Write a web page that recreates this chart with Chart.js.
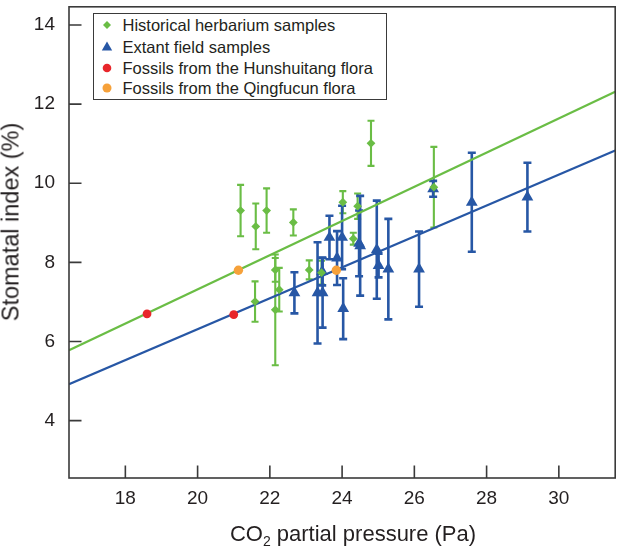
<!DOCTYPE html>
<html><head><meta charset="utf-8">
<script src="https://cdn.jsdelivr.net/npm/chart.js@4.4.1/dist/chart.umd.min.js"></script>
<style>
html,body{margin:0;padding:0;background:#fff;}
#wrap{position:relative;width:622px;height:547px;font-family:"Liberation Sans",Arial,Helvetica,sans-serif;color:#231f20;overflow:hidden;}
canvas{position:absolute;left:0;top:0;}
.legend{position:absolute;left:93px;top:13px;width:294px;height:87px;border:1.5px solid #3a3a3a;box-sizing:border-box;background:#fff;}
.row{position:absolute;left:0;height:20px;line-height:20px;font-size:16.5px;white-space:nowrap;}
.row svg{position:absolute;left:5.5px;top:3px;}
.row span{position:absolute;left:28.5px;top:0;}
.ytitle{position:absolute;left:11px;top:222px;transform:translate(-50%,-50%) rotate(-90deg);font-size:23.5px;white-space:nowrap;}
.xtitle{position:absolute;left:353px;top:534px;transform:translate(-50%,-50%);font-size:22px;white-space:nowrap;}
.xtitle sub{font-size:14px;vertical-align:-5px;line-height:0;}
</style></head>
<body>
<div id="wrap">
<canvas id="c" width="622" height="547"></canvas>
<div class="legend">
 <div class="row" style="top:0.5px"><svg width="14" height="14"><polygon points="7,3 11,7 7,11 3,7" fill="#6abd45"/></svg><span>Historical herbarium samples</span></div>
 <div class="row" style="top:22.5px"><svg width="14" height="14"><polygon points="7,1.5 12.2,10.5 1.8,10.5" fill="#2757a5"/></svg><span>Extant field samples</span></div>
 <div class="row" style="top:43.5px"><svg width="14" height="14"><circle cx="7" cy="7" r="4.3" fill="#e8262b"/></svg><span>Fossils from the Hunshuitang flora</span></div>
 <div class="row" style="top:63.5px"><svg width="14" height="14"><circle cx="7" cy="7" r="4.5" fill="#f6a13a"/></svg><span>Fossils from the Qingfucun flora</span></div>
</div>
<div class="ytitle">Stomatal index (%)</div>
<div class="xtitle">CO<sub>2</sub> partial pressure (Pa)</div>
</div>
<script>
// ---- data ----
const xTicks = [18, 20, 22, 24, 26, 28, 30];
const yTicks = [4, 6, 8, 10, 12, 14];

const herbX   = [21.19, 21.61, 21.91, 22.65, 22.15, 22.15, 22.26, 21.59, 23.09, 23.43, 24.02, 24.43, 24.31, 24.80, 26.54];
const herbY   = [9.31, 8.91, 9.31, 9.01, 7.81, 6.80, 7.31, 7.01, 7.81, 7.74, 9.52, 9.42, 8.60, 11.01, 9.90];
const herbErr = [0.65, 0.58, 0.56, 0.33, 0.30, 1.40, 0.55, 0.51, 0.24, 0.30, 0.28, 0.32, 0.15, 0.57, 1.02];

const extX   = [22.68, 23.32, 23.46, 23.45, 23.65, 23.86, 24.00, 24.03, 24.50, 24.47, 24.96, 25.01, 25.28, 26.13, 26.52, 27.59, 29.13];
const extY   = [7.23, 7.23, 7.23, 7.77, 8.63, 8.11, 8.63, 6.83, 8.42, 8.48, 8.32, 7.92, 7.83, 7.83, 9.86, 9.52, 9.65];
const extErr = [0.52, 1.28, 0.88, 0.35, 0.55, 0.68, 0.80, 0.77, 1.26, 0.83, 1.24, 0.30, 1.27, 0.95, 0.20, 1.25, 0.87];

const hunX = [18.60, 21.00];
const hunY = [6.70, 6.68];
const qinX = [21.13, 23.84];
const qinY = [7.80, 7.80];

const herbLineX = [16.44, 31.56];
const herbLineY = [5.78, 12.31];
const extLineX  = [16.44, 31.56];
const extLineY  = [4.92, 10.83];

// ---- styling ----
const GREEN = '#6abd45', BLUE = '#2757a5', RED = '#e8262b', ORANGE = '#f6a13a';
const FONT = '"Liberation Sans", Arial, Helvetica, sans-serif';
const pts = (xs, ys) => xs.map((x, i) => ({x: x, y: ys[i]}));

const errorBars = {
  id: 'errorBars',
  beforeDatasetsDraw(chart) {
    const {ctx, scales: {x, y}} = chart;
    ctx.save();
    chart.data.datasets.forEach(ds => {
      if (!ds.errors) return;
      ctx.strokeStyle = ds.barColor;
      ctx.lineWidth = ds.barWidth;
      ds.data.forEach((p, i) => {
        const e = ds.errors[i];
        const px = x.getPixelForValue(p.x);
        const top = y.getPixelForValue(p.y + e);
        const bot = y.getPixelForValue(p.y - e);
        ctx.beginPath();
        ctx.moveTo(px, top); ctx.lineTo(px, bot);
        ctx.moveTo(px - ds.capHalf, top); ctx.lineTo(px + ds.capHalf, top);
        ctx.moveTo(px - ds.capHalf, bot); ctx.lineTo(px + ds.capHalf, bot);
        ctx.stroke();
      });
    });
    ctx.restore();
  }
};

const frame = {
  id: 'frame',
  afterDatasetsDraw(chart) {
    const {ctx, chartArea: a, scales: {x, y}} = chart;
    ctx.save();
    ctx.strokeStyle = '#3a3a3a';
    ctx.lineWidth = 1.6;
    ctx.strokeRect(a.left, a.top, a.right - a.left, a.bottom - a.top);
    ctx.beginPath();
    xTicks.forEach(v => { const px = x.getPixelForValue(v); ctx.moveTo(px, a.bottom); ctx.lineTo(px, a.bottom - 12.5); });
    yTicks.forEach(v => { const py = y.getPixelForValue(v); ctx.moveTo(a.left, py); ctx.lineTo(a.left + 12.5, py); });
    ctx.stroke();
    ctx.restore();
  }
};

const noPad = s => { s.paddingTop = 0; s.paddingBottom = 0; s.paddingLeft = 0; s.paddingRight = 0; };

new Chart(document.getElementById('c'), {
  type: 'scatter',
  data: {
    datasets: [
      {label: 'Historical herbarium samples', data: pts(herbX, herbY), pointStyle: 'rectRot', pointRadius: 4.4,
       backgroundColor: GREEN, borderColor: GREEN, borderWidth: 0, errors: herbErr, barColor: GREEN, barWidth: 2.1, capHalf: 3.5},
      {label: 'Extant field samples', data: pts(extX, extY), pointStyle: 'triangle', pointRadius: 6.8,
       backgroundColor: BLUE, borderColor: BLUE, borderWidth: 0, errors: extErr, barColor: BLUE, barWidth: 2.6, capHalf: 4},
      {label: 'Fossils from the Hunshuitang flora', data: pts(hunX, hunY), pointStyle: 'circle', pointRadius: 4.4,
       backgroundColor: RED, borderColor: RED, borderWidth: 0},
      {label: 'Fossils from the Qingfucun flora', data: pts(qinX, qinY), pointStyle: 'circle', pointRadius: 4.7,
       backgroundColor: ORANGE, borderColor: ORANGE, borderWidth: 0},
      {label: 'herbarium fit', data: pts(herbLineX, herbLineY), showLine: true, pointRadius: 0,
       borderColor: GREEN, borderWidth: 2.2, order: 5},
      {label: 'extant fit', data: pts(extLineX, extLineY), showLine: true, pointRadius: 0,
       borderColor: BLUE, borderWidth: 2.2, order: 5}
    ]
  },
  options: {
    responsive: false,
    animation: false,
    devicePixelRatio: 1,
    layout: {padding: {top: 1, right: 1, left: 0, bottom: 0}},
    plugins: {legend: {display: false}, tooltip: {enabled: false}},
    scales: {
      x: {
        type: 'linear', min: 16.44, max: 31.56,
        afterBuildTicks: s => { s.ticks = xTicks.map(v => ({value: v})); },
        afterFit: s => { s.height = 69; noPad(s); },
        grid: {display: false, drawTicks: false}, border: {display: false},
        ticks: {font: {family: FONT, size: 19}, color: '#231f20', padding: 9, maxRotation: 0, autoSkip: false}
      },
      y: {
        type: 'linear', min: 2.55, max: 14.46,
        afterBuildTicks: s => { s.ticks = yTicks.map(v => ({value: v})); },
        afterFit: s => { s.width = 69; noPad(s); },
        grid: {display: false, drawTicks: false}, border: {display: false},
        ticks: {font: {family: FONT, size: 19}, color: '#231f20', padding: 14, autoSkip: false}
      }
    }
  },
  plugins: [errorBars, frame]
});
</script>
</body></html>
